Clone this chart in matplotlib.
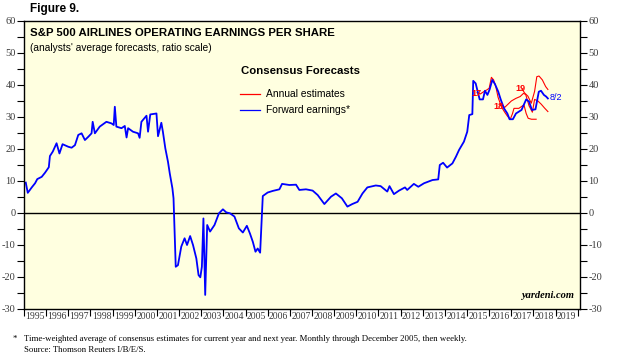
import matplotlib.pyplot as plt
import numpy as np
from matplotlib.ticker import MultipleLocator, FixedLocator, NullFormatter

# forward earnings (decimal year, value)
fwd_t = [1995.08, 1995.17, 1995.35, 1995.5, 1995.6, 1995.8, 1995.95, 1996.12, 1996.17, 1996.3,
         1996.47, 1996.6, 1996.74, 1997.0, 1997.15, 1997.3, 1997.45, 1997.6, 1997.75, 1997.9,
         1998.05, 1998.1, 1998.2, 1998.42, 1998.72, 1998.95, 1999.05, 1999.1, 1999.17, 1999.4,
         1999.55, 1999.63, 1999.7, 1999.92, 2000.15, 2000.22, 2000.3, 2000.53, 2000.6, 2000.7,
         2000.98, 2001.05, 2001.2, 2001.27, 2001.38, 2001.5, 2001.58, 2001.7, 2001.75, 2001.85,
         2001.95, 2002.1, 2002.25, 2002.36, 2002.5, 2002.63, 2002.78, 2002.88, 2002.96, 2003.03,
         2003.1, 2003.18, 2003.27, 2003.4, 2003.6, 2003.8, 2003.98, 2004.13, 2004.3, 2004.5,
         2004.7, 2004.88, 2005.06, 2005.2, 2005.33, 2005.45, 2005.55, 2005.66, 2005.78, 2006.0,
         2006.23, 2006.53, 2006.65, 2006.98, 2007.28, 2007.43, 2007.73, 2008.03, 2008.26, 2008.56,
         2008.86, 2009.08, 2009.35, 2009.6, 2009.82, 2010.06, 2010.28, 2010.5, 2010.88, 2011.1,
         2011.4, 2011.5, 2011.7, 2011.93, 2012.2, 2012.3, 2012.6, 2012.8, 2013.06, 2013.44,
         2013.7, 2013.77, 2013.92, 2014.1, 2014.34, 2014.5, 2014.64, 2014.86, 2015.01, 2015.1,
         2015.24, 2015.28, 2015.39, 2015.57, 2015.72, 2015.81, 2015.92, 2016.02, 2016.14, 2016.26,
         2016.41, 2016.52, 2016.67, 2016.82, 2016.92, 2017.07, 2017.21, 2017.46, 2017.67, 2017.8,
         2017.93, 2018.09, 2018.24, 2018.34, 2018.47, 2018.57, 2018.65]
fwd_v = [9.5, 6.3, 8.0, 9.3, 10.6, 11.3, 12.6, 14.3, 17.8, 19.2,
         21.8, 18.6, 21.5, 20.7, 20.4, 21.2, 24.4, 24.9, 22.8, 23.8,
         24.9, 28.5, 24.9, 27.0, 28.5, 28.0, 27.5, 33.2, 27.0, 26.5,
         27.2, 23.6, 26.5, 25.4, 24.9, 23.5, 28.5, 30.4, 25.4, 30.8,
         31.1, 24.0, 28.2, 25.4, 20.2, 16.0, 12.4, 7.7, 4.6, -16.8,
         -16.3, -10.5, -7.9, -10.0, -7.2, -10.0, -14.2, -19.4, -20.1, -16.8,
         -1.7, -25.6, -3.75, -5.8, -3.75, -0.1, 1.15, 0.2, -0.1, -1.1,
         -4.8, -6.1, -4.0, -6.4, -9.0, -12.1, -11.1, -12.4, 5.3, 6.4,
         6.9, 7.4, 9.1, 8.75, 8.85, 7.2, 7.4, 7.0, 5.6, 2.8,
         5.1, 6.1, 4.6, 2.0, 2.8, 3.5, 6.1, 8.0, 8.6, 8.4,
         6.7, 8.4, 5.9, 7.0, 8.0, 7.2, 9.1, 8.2, 9.3, 10.3,
         10.5, 15.0, 15.7, 14.2, 15.5, 17.6, 19.7, 22.3, 25.4, 30.6,
         30.9, 41.3, 40.5, 35.5, 35.5, 38.2, 36.9, 38.6, 41.6, 40.3,
         37.9, 35.5, 32.7, 31.1, 29.3, 29.3, 31.1, 32.2, 35.5, 34.8,
         32.2, 32.4, 37.9, 38.2, 36.9, 36.4, 35.8]

# annual consensus estimates
est17_t = [2015.45, 2015.6, 2015.75, 2015.9, 2016.0, 2016.1, 2016.2, 2016.3, 2016.4, 2016.55,
           2016.7, 2016.82, 2016.95, 2017.05, 2017.12, 2017.34, 2017.57, 2017.67, 2017.76, 2017.91,
           2018.12]
est17_v = [37.6, 37.2, 37.9, 38.5, 39.0, 42.4, 41.6, 39.5, 36.2, 33.2,
           31.5, 30.3, 29.3, 31.0, 32.7, 32.7, 33.8, 31.1, 29.6, 29.3,
           29.3]
est18_t = [2016.55, 2016.7, 2016.85, 2017.0, 2017.2, 2017.4, 2017.55, 2017.65, 2017.8, 2017.95,
           2018.05, 2018.2, 2018.35, 2018.5, 2018.65]
est18_v = [33.8, 33.0, 34.0, 35.0, 35.8, 36.4, 37.4, 37.0, 33.5, 31.5,
           35.5, 35.0, 34.0, 32.8, 31.7]
est19_t = [2017.5, 2017.6, 2017.75, 2017.9, 2018.05, 2018.15, 2018.25, 2018.4, 2018.55, 2018.65]
est19_v = [38.6, 37.5, 36.5, 34.3, 38.0, 42.6, 42.8, 41.6, 39.5, 38.6]

years = np.arange(1995, 2020)

plt.rcParams['font.family'] = ['Liberation Sans', 'DejaVu Sans']
fig = plt.figure(figsize=(6.17, 3.64), dpi=100)
ax = fig.add_axes([24/617, 1-309/364, 556/617, 288/364])
ax.set_facecolor('#ffffe0')

ax.axhline(0, color='black', lw=1)
ax.plot(est17_t, est17_v, color='red', lw=0.8)
ax.plot(est18_t, est18_v, color='red', lw=0.8)
ax.plot(est19_t, est19_v, color='red', lw=0.8)
ax.plot(fwd_t, fwd_v, color='blue', lw=1.3)

ax.set_xlim(1995, 2020.1)
ax.set_ylim(-30, 60)

tick_font = dict(family='Liberation Serif', size=7.5, color='#3a3a3a')
ax.yaxis.set_minor_locator(MultipleLocator(5))
ax.tick_params(axis='y', which='both', direction='out', length=5, width=0.8,
               left=True, right=True, labelleft=True, labelright=True, pad=1)
ax.set_yticks(np.arange(-30, 61, 10))
ax.set_yticklabels([str(v) for v in range(-30, 61, 10)], **tick_font)

ax.xaxis.set_major_locator(FixedLocator(list(years) + [2020]))
ax.xaxis.set_major_formatter(NullFormatter())
ax.set_xticks(years + 0.5, minor=True)
ax.set_xticklabels([str(y) for y in years], minor=True, family='Liberation Serif',
                   size=7, color='#3a3a3a')
ax.tick_params(axis='x', which='major', direction='out', length=5, width=0.8)
ax.tick_params(axis='x', which='minor', length=0, pad=2)

for s in ax.spines.values():
    s.set_linewidth(1)

ax.text(0.01, 0.975, 'S&P 500 AIRLINES OPERATING EARNINGS PER SHARE', transform=ax.transAxes,
        fontsize=8.2, fontweight='bold', va='top', ha='left')
ax.text(0.01, 0.925, "(analysts' average forecasts, ratio scale)", transform=ax.transAxes,
        fontsize=7.3, va='top', ha='left')

# legend
ax.text(0.391, 0.825, 'Consensus Forecasts', transform=ax.transAxes, fontsize=8.2,
        fontweight='bold', va='center', ha='left')
ax.plot([0.389, 0.425], [0.745, 0.745], transform=ax.transAxes, color='red', lw=0.9)
ax.text(0.436, 0.745, 'Annual estimates', transform=ax.transAxes, fontsize=7.4,
        va='center', ha='left')
ax.plot([0.389, 0.425], [0.69, 0.69], transform=ax.transAxes, color='blue', lw=0.9)
ax.text(0.436, 0.69, 'Forward earnings*', transform=ax.transAxes, fontsize=7.4,
        va='center', ha='left')

ax.text(2015.2, 37.5, '17', color='red', fontsize=6.5, fontweight='bold', ha='left', va='center')
ax.text(2016.2, 33.3, '18', color='red', fontsize=6.5, fontweight='bold', ha='left', va='center')
ax.text(2017.2, 39.0, '19', color='red', fontsize=6.5, fontweight='bold', ha='left', va='center')
ax.text(2018.75, 36.2, '8/2', color='blue', fontsize=6.5, ha='left', va='center')

ax.text(0.99, 0.03, 'yardeni.com', transform=ax.transAxes, family='Liberation Serif',
        fontsize=7.5, fontweight='bold', style='italic', ha='right', va='bottom')

fig.text(30/617, 1-9/364, 'Figure 9.', fontsize=8.5, fontweight='bold', va='center', ha='left')
fig.text(13/617, 1-339/364, '*', family='Liberation Serif', fontsize=6.3, va='center')
fig.text(24/617, 1-339/364,
         'Time-weighted average of consensus estimates for current year and next year. '
         'Monthly through December 2005, then weekly.',
         family='Liberation Serif', fontsize=6.3, va='center', ha='left')
fig.text(24/617, 1-350/364, 'Source: Thomson Reuters I/B/E/S.', family='Liberation Serif',
         fontsize=6.3, va='center', ha='left')

fig.savefig('out.png', dpi=100)
